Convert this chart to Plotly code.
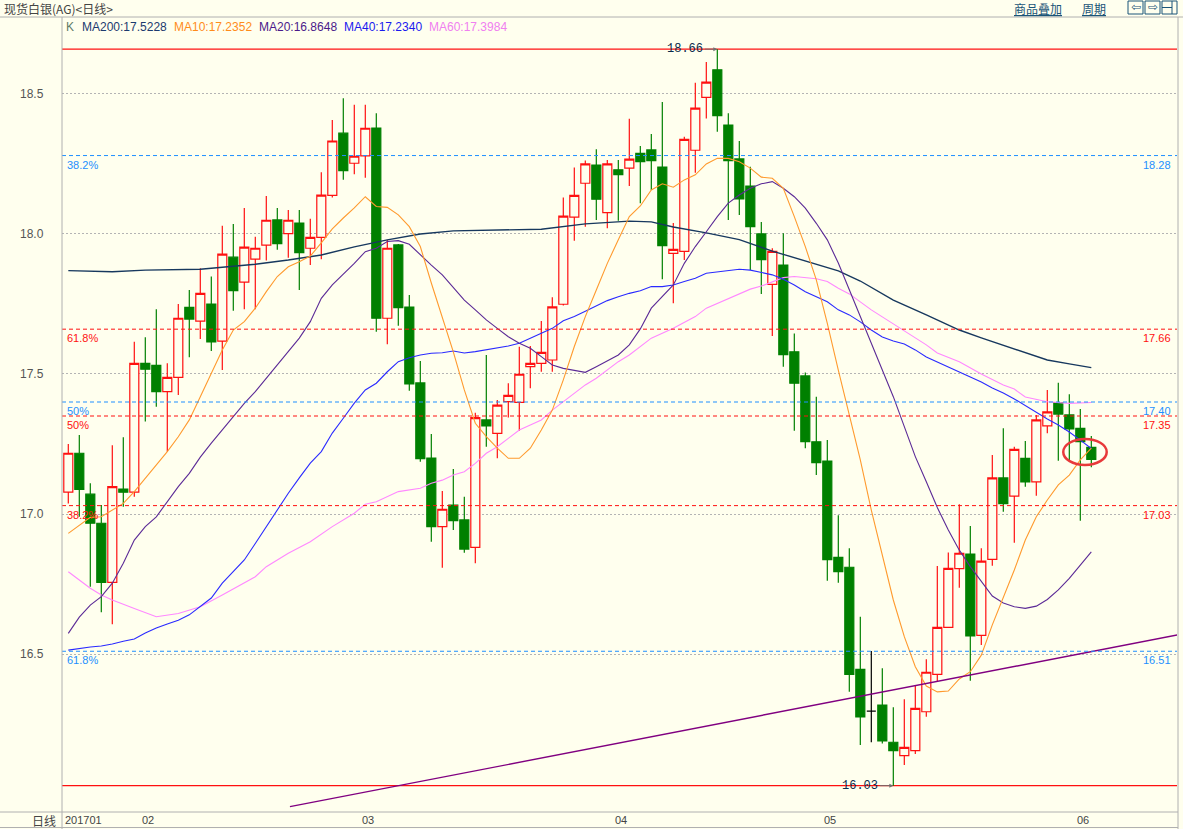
import plotly.graph_objects as go

BG = "#ffffee"

# ---------------- data ----------------
open_ = [17.078, 17.217, 17.071, 16.967, 16.756, 17.089, 17.078, 17.538, 17.531, 17.437,
         17.488, 17.738, 17.689, 17.75, 17.617, 17.917, 17.828, 17.91, 17.96, 18.05,
         18.001, 18.039, 17.949, 17.988, 18.138, 18.36, 18.2525, 18.279, 18.378, 17.699,
         17.961, 17.739, 17.468, 17.2, 16.955, 17.032, 16.979, 16.881, 17.336, 17.288,
         17.401, 17.399, 17.526, 17.538, 17.55, 17.749, 18.06, 18.181, 18.246, 18.076,
         18.229, 18.235, 18.288, 18.3, 18.239, 17.931, 17.938, 18.299, 18.488, 18.586,
         18.389, 18.268, 18.171, 18.0, 17.82, 17.889, 17.579, 17.493, 17.258, 17.189,
         16.845, 16.81, 16.445, 16.296, 16.318, 16.185, 16.137, 16.155, 16.294, 16.4275,
         16.595, 16.805, 16.857, 16.567, 16.838, 17.129, 17.064, 17.199, 17.115, 17.315,
         17.3975, 17.354, 17.306, 17.238]
high = [17.25, 17.282, 17.11, 17.032, 17.246, 17.274, 17.615, 17.631, 17.731, 17.538,
        17.75, 17.8, 17.878, 17.848, 18.029, 18.036, 18.093, 17.99, 18.136, 18.093,
        18.086, 18.086, 18.054, 18.22, 18.407, 18.485, 18.461, 18.461, 18.431, 17.979,
        17.964, 17.782, 17.546, 17.286, 17.082, 17.161, 17.062, 17.362, 17.568, 17.407,
        17.467, 17.5975, 17.6, 17.689, 17.774, 18.13, 18.237, 18.262, 18.3025, 18.264,
        18.264, 18.411, 18.314, 18.357, 18.471, 18.039, 18.3475, 18.54, 18.614, 18.66,
        18.431, 18.332, 18.24, 18.043, 17.949, 18.0025, 17.645, 17.505, 17.419, 17.264,
        16.996, 16.8775, 16.633, 16.511, 16.449, 16.31, 16.339, 16.386, 16.481, 16.814,
        16.863, 17.035, 16.957, 16.8775, 17.211, 17.306, 17.24, 17.261, 17.354, 17.443,
        17.469, 17.4275, 17.375, 17.279]
low = [17.038, 16.99, 16.74, 16.649, 16.606, 17.026, 17.062, 17.33, 17.383, 17.222,
       17.425, 17.56, 17.625, 17.582, 17.514, 17.726, 17.731, 17.731, 17.905, 17.944,
       17.915, 17.80, 17.889, 17.91, 18.13, 18.194, 18.213, 18.201, 17.651, 17.606,
       17.6725, 17.44, 17.187, 16.901, 16.808, 16.943, 16.862, 16.824, 17.24, 17.199,
       17.345, 17.2975, 17.449, 17.508, 17.508, 17.745, 17.976, 18.026, 18.05, 18.02,
       18.0475, 18.171, 18.11, 18.157, 17.838, 17.7525, 17.907, 18.219, 18.412, 18.365,
       18.05, 18.068, 17.871, 17.786, 17.636, 17.526, 17.2975, 17.235, 17.139, 16.762,
       16.755, 16.365, 16.175, 16.185, 16.181, 16.03, 16.104, 16.143, 16.276, 16.401,
       16.593, 16.737, 16.405, 16.532, 16.815, 17.008, 16.8975, 17.0975, 17.065, 17.288,
       17.19, 17.193, 16.976, 17.167]
close = [17.217, 17.088, 16.967, 16.756, 17.098, 17.078, 17.538, 17.517, 17.437, 17.488,
         17.699, 17.696, 17.788, 17.615, 17.928, 17.798, 17.953, 17.949, 18.049, 17.965,
         18.049, 17.933, 17.988, 18.139, 18.332, 18.226, 18.2775, 18.3775, 17.699, 17.949,
         17.737, 17.465, 17.1975, 16.955, 17.017, 16.976, 16.875, 17.344, 17.315, 17.389,
         17.424, 17.499, 17.538, 17.5775, 17.74, 18.064, 18.138, 18.25, 18.124, 18.25,
         18.212, 18.267, 18.258, 18.262, 17.958, 17.945, 18.338, 18.449, 18.542, 18.4225,
         18.262, 18.125, 18.026, 17.908, 17.938, 17.569, 17.467, 17.258, 17.183, 16.837,
         16.794, 16.4275, 16.276, 16.296, 16.19, 16.155, 16.167, 16.306, 16.435, 16.595,
         16.806, 16.86, 16.565, 16.832, 17.129, 17.037, 17.231, 17.115, 17.336, 17.365,
         17.357, 17.304, 17.258, 17.195]
day_idx = list(range(len(close)))

month_idx = [0, 7, 27, 50, 69, 92]
month_txt = ["201701", "02", "03", "04", "05", "06"]
y_ticks = [16.5, 17.0, 17.5, 18.0, 18.5]

ma10 = [16.931, 16.961, 16.988, 16.99, 17.014, 17.038, 17.08, 17.128, 17.175, 17.223,
        17.276, 17.336, 17.419, 17.503, 17.586, 17.657, 17.687, 17.735, 17.794, 17.848,
        17.883, 17.901, 17.921, 17.968, 18.018, 18.057, 18.093, 18.133, 18.098, 18.095,
        18.068, 18.026, 17.955, 17.825, 17.70, 17.579, 17.443, 17.324, 17.276, 17.235,
        17.199, 17.199, 17.235, 17.30, 17.371, 17.479, 17.598, 17.705, 17.80, 17.895,
        17.979, 18.062, 18.10, 18.157, 18.179, 18.167, 18.193, 18.211, 18.25, 18.27,
        18.27, 18.258, 18.235, 18.203, 18.199, 18.163, 18.062, 17.955, 17.836, 17.681,
        17.514, 17.348, 17.193, 17.014, 16.848, 16.693, 16.562, 16.455, 16.386, 16.365,
        16.368, 16.411, 16.437, 16.496, 16.604, 16.70, 16.80, 16.907, 16.99, 17.05,
        17.104, 17.139, 17.193, 17.2352]
ma20 = [16.574, 16.632, 16.675, 16.705, 16.753, 16.824, 16.907, 16.955, 16.99, 17.044,
        17.098, 17.145, 17.203, 17.253, 17.30, 17.348, 17.395, 17.437, 17.485, 17.532,
        17.58, 17.628, 17.687, 17.77, 17.818, 17.856, 17.895, 17.937, 17.949, 17.973,
        17.976, 17.963, 17.925, 17.889, 17.854, 17.807, 17.764, 17.729, 17.693, 17.663,
        17.633, 17.61, 17.592, 17.562, 17.532, 17.52, 17.514, 17.506, 17.526, 17.546,
        17.568, 17.604, 17.661, 17.735, 17.776, 17.818, 17.895, 17.955, 18.008, 18.062,
        18.11, 18.139, 18.163, 18.179, 18.187, 18.163, 18.133, 18.092, 18.038, 17.979,
        17.896, 17.80, 17.707, 17.611, 17.514, 17.419, 17.312, 17.205, 17.115, 17.023,
        16.943, 16.871, 16.812, 16.758, 16.707, 16.682, 16.669, 16.663, 16.671, 16.695,
        16.729, 16.77, 16.818, 16.8648]
ma40 = [16.514, 16.52, 16.525, 16.529, 16.536, 16.546, 16.554, 16.575, 16.593, 16.607,
        16.621, 16.64, 16.669, 16.70, 16.753, 16.793, 16.836, 16.895, 16.955, 17.014,
        17.074, 17.129, 17.182, 17.223, 17.289, 17.342, 17.396, 17.443, 17.467, 17.508,
        17.544, 17.558, 17.568, 17.574, 17.576, 17.582, 17.575, 17.58, 17.586, 17.592,
        17.60, 17.61, 17.628, 17.645, 17.663, 17.69, 17.705, 17.724, 17.743, 17.762,
        17.776, 17.788, 17.797, 17.812, 17.812, 17.818, 17.83, 17.842, 17.86, 17.865,
        17.871, 17.874, 17.871, 17.862, 17.854, 17.838, 17.818, 17.794, 17.776, 17.758,
        17.729, 17.711, 17.686, 17.657, 17.632, 17.618, 17.607, 17.586, 17.561, 17.543,
        17.525, 17.508, 17.489, 17.471, 17.45, 17.432, 17.411, 17.386, 17.361, 17.339,
        17.318, 17.293, 17.264, 17.234]
ma60_idx = [0, 2, 3, 4, 6, 8, 10, 12, 14, 16, 17, 18, 20, 22, 24, 26, 27, 28, 30, 32,
            33, 34, 35, 36, 37, 38, 39, 40, 41, 42, 43, 44, 45, 46, 47, 48, 49, 50, 51, 52,
            53, 55, 57, 58, 60, 62, 63, 64, 65, 66, 67, 68, 69, 70, 71, 72, 73, 74, 75, 76,
            77, 78, 79, 81, 83, 85, 86, 87, 89, 91, 93]
ma60 = [16.794, 16.735, 16.711, 16.693, 16.663, 16.633, 16.645, 16.669, 16.711, 16.753,
        16.776, 16.812, 16.86, 16.901, 16.955, 17.003, 17.035, 17.044, 17.08, 17.092,
        17.11, 17.121, 17.139, 17.151, 17.181, 17.217, 17.24, 17.27, 17.30, 17.318,
        17.336, 17.371, 17.401, 17.431, 17.461, 17.485, 17.514, 17.544, 17.568, 17.598,
        17.628, 17.663, 17.705, 17.735, 17.77, 17.803, 17.814, 17.83, 17.844, 17.848,
        17.845, 17.84, 17.83, 17.806, 17.786, 17.757, 17.729, 17.704, 17.679, 17.654,
        17.629, 17.604, 17.575, 17.544, 17.50, 17.461, 17.446, 17.418, 17.401, 17.395,
        17.3984]
ma200_idx = [0, 4, 7, 12, 17, 20, 23, 26, 29, 32, 35, 38, 43, 47, 51, 53, 55, 58, 61, 64,
             67, 70, 72, 75, 78, 81, 83, 86, 89, 91, 93]
ma200 = [17.869, 17.865, 17.871, 17.874, 17.892, 17.907, 17.925, 17.954, 17.979, 18.0,
         18.011, 18.014, 18.017, 18.036, 18.046, 18.043, 18.025, 18.004, 17.98, 17.939,
         17.904, 17.868, 17.832, 17.764, 17.711, 17.657, 17.629, 17.589, 17.55, 17.536,
         17.5228]

legend_names = ["MA200", "MA10", "MA20", "MA40", "MA60"]
legend_vals = ["17.5228", "17.2352", "16.8648", "17.2340", "17.3984"]

fib_blue = [18.28, 17.40, 16.51]
fib_blue_pct = ["38.2%", "50%", "61.8%"]
fib_red = [17.66, 17.35, 17.03]
fib_red_pct = ["61.8%", "50%", "38.2%"]
range_hi, range_lo = 18.66, 16.03
hi_day, lo_day = 59, 75
trend_x = [20.15, 100.8]
trend_y = [15.955, 16.568]
mark_x = [90.45, 94.4]
mark_y = [17.175, 17.268]

# ---------------- styling ----------------
C_MA200 = "#17385e"
C_MA10 = "#ff9a2e"
C_MA20 = "#5b2a96"
C_MA40 = "#2a2aff"
C_MA60 = "#ff88ff"
C_BLUE = "#1e8fff"
C_RED = "#ff1010"
C_GREEN = "#008000"
C_FRAME = "#b0b0b0"
FONT = "Liberation Sans"
CJK = "Noto Sans CJK SC"

L, R, T, B = 62, 1177, 20, 812
W, H = R - L, B - T


def px(x):
    return (x - L) / W


def py(y):
    return (B - y) / H


fig = go.Figure()

# candles (doji drawn separately in black)
reg = [i for i in day_idx if open_[i] != close[i]]
doji = [i for i in day_idx if open_[i] == close[i]]
fig.add_trace(go.Candlestick(
    x=reg, open=[open_[i] for i in reg], high=[high[i] for i in reg],
    low=[low[i] for i in reg], close=[close[i] for i in reg],
    increasing=dict(line=dict(color=C_RED, width=1.2), fillcolor=BG),
    decreasing=dict(line=dict(color=C_GREEN, width=1.2), fillcolor=C_GREEN),
    showlegend=False, hoverinfo="skip"))
if doji:
    fig.add_trace(go.Candlestick(
        x=doji, open=[open_[i] for i in doji], high=[high[i] for i in doji],
        low=[low[i] for i in doji], close=[close[i] for i in doji],
        increasing=dict(line=dict(color="black", width=1.2), fillcolor="black"),
        decreasing=dict(line=dict(color="black", width=1.2), fillcolor="black"),
        showlegend=False, hoverinfo="skip"))

# moving averages
fig.add_trace(go.Scatter(x=ma200_idx, y=ma200, mode="lines",
                         line=dict(color=C_MA200, width=1.4), hoverinfo="skip", showlegend=False))
fig.add_trace(go.Scatter(x=ma60_idx, y=ma60, mode="lines",
                         line=dict(color=C_MA60, width=1.1), hoverinfo="skip", showlegend=False))
fig.add_trace(go.Scatter(x=day_idx, y=ma40, mode="lines",
                         line=dict(color=C_MA40, width=1.1), hoverinfo="skip", showlegend=False))
fig.add_trace(go.Scatter(x=day_idx, y=ma20, mode="lines",
                         line=dict(color=C_MA20, width=1.1), hoverinfo="skip", showlegend=False))
fig.add_trace(go.Scatter(x=day_idx, y=ma10, mode="lines",
                         line=dict(color=C_MA10, width=1.1), hoverinfo="skip", showlegend=False))
# trend line
fig.add_trace(go.Scatter(x=trend_x, y=trend_y, mode="lines",
                         line=dict(color="#800080", width=1.4), hoverinfo="skip", showlegend=False))

shapes = []
annotations = []

# fibonacci levels
for v, p in zip(fib_blue, fib_blue_pct):
    shapes.append(dict(type="line", xref="paper", yref="y", x0=0, x1=1, y0=v, y1=v,
                       line=dict(color=C_BLUE, width=1, dash="4px,3px"), layer="above"))
    annotations.append(dict(xref="paper", yref="y", x=px(65), y=v, xanchor="left", yanchor="top",
                            yshift=-1, text=p, showarrow=False, font=dict(family=FONT, size=11, color=C_BLUE)))
    annotations.append(dict(xref="paper", yref="y", x=px(1173), y=v, xanchor="right", yanchor="top",
                            yshift=-1, text=f"{v:.2f}", showarrow=False, font=dict(family=FONT, size=11, color=C_BLUE)))
for v, p in zip(fib_red, fib_red_pct):
    shapes.append(dict(type="line", xref="paper", yref="y", x0=0, x1=1, y0=v, y1=v,
                       line=dict(color=C_RED, width=1, dash="4px,3px"), layer="above"))
    annotations.append(dict(xref="paper", yref="y", x=px(65), y=v, xanchor="left", yanchor="top",
                            yshift=-1, text=p, showarrow=False, font=dict(family=FONT, size=11, color=C_RED)))
    annotations.append(dict(xref="paper", yref="y", x=px(1173), y=v, xanchor="right", yanchor="top",
                            yshift=-1, text=f"{v:.2f}", showarrow=False, font=dict(family=FONT, size=11, color=C_RED)))
for v in (range_hi, range_lo):
    shapes.append(dict(type="line", xref="paper", yref="y", x0=0, x1=1, y0=v, y1=v,
                       line=dict(color=C_RED, width=1.2), layer="below"))

# high / low markers
annotations.append(dict(x=hi_day, y=range_hi, xref="x", yref="y", text=f"{range_hi:.2f}",
                        showarrow=True, arrowhead=2, arrowsize=0.8, arrowwidth=1, arrowcolor="#707070",
                        ax=-32, ay=0, font=dict(family="Liberation Mono", size=12, color="#0b2b4b")))
annotations.append(dict(x=lo_day, y=range_lo, xref="x", yref="y", text=f"{range_lo:.2f}",
                        showarrow=True, arrowhead=2, arrowsize=0.8, arrowwidth=1, arrowcolor="#707070",
                        ax=-33, ay=0, font=dict(family="Liberation Mono", size=12, color="#0b2b4b")))

# red ellipse marker
shapes.append(dict(type="circle", xref="x", yref="y", x0=mark_x[0], x1=mark_x[1],
                   y0=mark_y[0], y1=mark_y[1], line=dict(color="#e8393a", width=2.5)))

# y tick labels
for v in y_ticks:
    annotations.append(dict(xref="paper", yref="y", x=px(46), y=v, xanchor="right", yanchor="middle",
                            text=f"{v:.1f}", showarrow=False, font=dict(family=FONT, size=12, color="#555555")))

# month labels
for i, t in zip(month_idx, month_txt):
    annotations.append(dict(xref="x", yref="paper", x=i - 0.5, y=py(820), xanchor="left", yanchor="middle",
                            text=t, showarrow=False, font=dict(family=FONT, size=11, color="#444444")))
annotations.append(dict(xref="paper", yref="paper", x=px(58), y=py(820), xanchor="right", yanchor="middle",
                        text="日线", showarrow=False, font=dict(family=CJK, size=12, color="#444444")))

# header
annotations.append(dict(xref="paper", yref="paper", x=px(2), y=py(8), xanchor="left", yanchor="middle",
                        text="现货白银(AG)&lt;日线&gt;", showarrow=False,
                        font=dict(family=CJK, size=12, color="#444444")))
annotations.append(dict(xref="paper", yref="paper", x=px(1038), y=py(8), xanchor="center", yanchor="middle",
                        text="<u>商品叠加</u>", showarrow=False, font=dict(family=CJK, size=12, color="#1a5478")))
annotations.append(dict(xref="paper", yref="paper", x=px(1094), y=py(8), xanchor="center", yanchor="middle",
                        text="<u>周期</u>", showarrow=False, font=dict(family=CJK, size=12, color="#1a5478")))
for x0, glyph in ((1128, "⇦"), (1145, "⇨"), (1162, "")):
    shapes.append(dict(type="rect", xref="paper", yref="paper", x0=px(x0), x1=px(x0 + 15),
                       y0=py(14), y1=py(1), line=dict(color="#1a5478", width=1)))
    if glyph:
        annotations.append(dict(xref="paper", yref="paper", x=px(x0 + 7.5), y=py(7.5), xanchor="center",
                                yanchor="middle", text=glyph, showarrow=False,
                                font=dict(family="DejaVu Sans", size=12, color="#1a5478")))
shapes.append(dict(type="line", xref="paper", yref="paper", x0=px(1162), x1=px(1172), y0=py(7.5), y1=py(7.5),
                   line=dict(color="#1a5478", width=1)))
shapes.append(dict(type="line", xref="paper", yref="paper", x0=px(1172), x1=px(1172), y0=py(14), y1=py(1),
                   line=dict(color="#1a5478", width=1)))

# legend row
annotations.append(dict(xref="paper", yref="paper", x=px(64), y=py(27), xanchor="left", yanchor="middle",
                        text="K", showarrow=False, font=dict(family=FONT, size=12, color="#5f7a66")))
leg_colors = ["#1c3a6e", "#ff8c1a", "#4b1a8a", "#1a1aee", "#f080f0"]
leg_x = [80, 172, 257, 342, 427]
for n, v, c, x in zip(legend_names, legend_vals, leg_colors, leg_x):
    annotations.append(dict(xref="paper", yref="paper", x=px(x), y=py(27), xanchor="left", yanchor="middle",
                            text=f"{n}:{v}", showarrow=False, font=dict(family=FONT, size=12, color=c)))


# frame lines
def hline(y, x0, x1):
    shapes.append(dict(type="line", xref="paper", yref="paper", x0=px(x0), x1=px(x1), y0=py(y), y1=py(y),
                       line=dict(color=C_FRAME, width=1)))


def vline(x, y0, y1):
    shapes.append(dict(type="line", xref="paper", yref="paper", x0=px(x), x1=px(x), y0=py(y0), y1=py(y1),
                       line=dict(color=C_FRAME, width=1)))


hline(17, 0, 1183)
hline(812, 0, 1178)
hline(827.5, 0, 1178)
vline(62, 17, 829)
vline(1178, 17, 829)

fig.update_layout(
    width=1183, height=829,
    margin=dict(l=L, r=1183 - R, t=T, b=829 - B),
    paper_bgcolor=BG, plot_bgcolor=BG,
    boxgap=0.18, boxgroupgap=0.0,
    shapes=shapes, annotations=annotations,
    showlegend=False,
    xaxis=dict(range=[-0.573, 100.79], showticklabels=False, showgrid=False, zeroline=False,
               rangeslider=dict(visible=False), fixedrange=True, showline=False, ticks=""),
    yaxis=dict(range=[15.936, 18.764], tickvals=y_ticks, showticklabels=False, showgrid=True,
               gridcolor="#b4b4b4", griddash="2px,2px", gridwidth=1, zeroline=False,
               fixedrange=True, showline=False, ticks=""),
)

fig.write_html("out.html", config={"displayModeBar": False},
               post_script="document.body.style.margin='0px';document.body.style.padding='0px';"
                           "document.body.style.overflow='hidden';"
                           "document.body.style.background='" + BG + "';")
